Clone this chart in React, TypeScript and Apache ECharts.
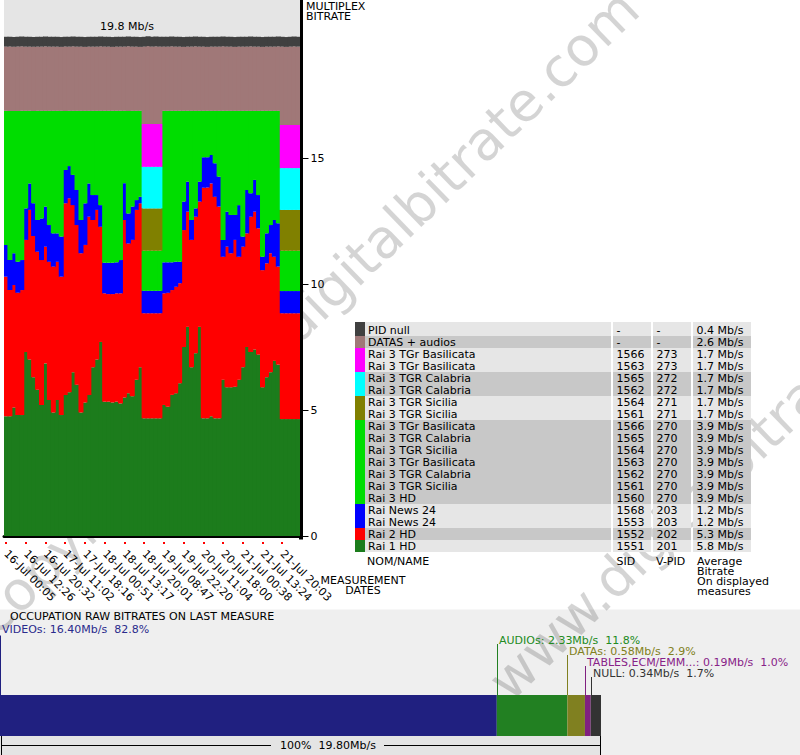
import React, { useEffect, useRef } from "react";
import * as echarts from "echarts";

const FONT = "DejaVu Sans";

// x-axis tick labels (one every 5 measurement columns)
const dateLabels = [
  "16-Jul 00:05", "16-Jul 12:26", "16-Jul 20:32", "17-Jul 11:02", "17-Jul 18:16",
  "18-Jul 00:51", "18-Jul 13:17", "18-Jul 20:01", "19-Jul 08:47", "19-Jul 22:20",
  "20-Jul 11:04", "20-Jul 18:00", "21-Jul 00:38", "21-Jul 13:24", "21-Jul 20:03",
];

// stacked bitrates (Mb/s), bottom to top
const rai1HD = [
  4.75, 4.75, 5.10, 4.80, 4.80, 7.30, 7.00, 6.30, 5.80, 5.20, 6.85, 5.40, 4.90, 5.40, 4.80,
  5.60, 5.70, 6.50, 6.00, 4.90, 5.30, 5.60, 6.70, 7.00, 7.70, 5.33, 5.33, 5.30, 5.33, 5.26,
  5.50, 5.66, 5.55, 6.20, 6.70, 4.67, 4.67, 4.67, 4.67, 4.67, 5.20, 5.13, 5.60, 5.66, 6.06,
  7.50, 8.30, 6.70, 7.25, 8.30, 4.67, 4.67, 4.75, 4.67, 4.67, 6.20, 5.90, 5.90, 5.92, 6.20,
  6.70, 7.50, 7.30, 7.40, 7.20, 5.90, 6.30, 6.50, 6.95, 6.80, 4.64, 4.64, 4.64, 4.64, 4.64,
];
const rai2HD = [
  5.54, 5.01, 4.86, 4.85, 4.96, 4.45, 5.94, 5.60, 5.48, 5.75, 4.63, 5.48, 5.79, 5.48, 5.49,
  7.60, 7.70, 6.63, 6.34, 6.32, 6.25, 7.07, 5.84, 5.94, 4.57, 4.30, 4.27, 4.30, 4.30, 4.37,
  7.04, 5.95, 6.20, 6.74, 6.50, 4.17, 4.17, 4.17, 4.17, 4.17, 4.43, 4.52, 4.16, 4.23, 3.97,
  4.64, 4.57, 5.05, 5.42, 4.97, 9.15, 9.16, 9.24, 8.79, 8.40, 4.88, 5.58, 5.32, 5.83, 4.88,
  4.78, 4.51, 5.37, 5.47, 5.01, 4.65, 4.52, 4.72, 4.13, 3.89, 4.20, 4.20, 4.20, 4.20, 4.20,
];
const news24 = [
  1.26, 1.19, 1.26, 1.23, 1.19, 1.25, 1.05, 1.30, 1.26, 1.65, 1.59, 1.46, 1.32, 1.13, 1.59,
  1.32, 1.28, 1.20, 1.39, 1.32, 1.65, 1.32, 0.99, 0.59, 0.86, 1.21, 1.24, 1.24, 1.23, 1.32,
  1.46, 1.19, 1.32, 0.39, 0.26, 0.89, 0.89, 0.89, 0.89, 0.89, 1.23, 1.21, 1.10, 0.99, 0.85,
  1.13, 1.19, 0.79, 0.33, 0.79, 1.21, 1.20, 1.13, 1.33, 1.19, 0.67, 1.39, 1.52, 0.99, 2.05,
  0.40, 1.72, 0.93, 1.26, 1.32, 0.53, 1.19, 1.12, 1.46, 1.72, 0.88, 0.88, 0.88, 0.88, 0.88,
];
const rai3HD = [
  5.32, 5.92, 5.65, 5.99, 5.92, 3.87, 2.88, 3.67, 4.33, 4.27, 3.80, 4.53, 4.86, 4.86, 4.99,
  2.35, 2.19, 2.54, 3.14, 4.33, 3.67, 2.88, 3.34, 3.34, 3.74, 6.03, 6.03, 6.03, 6.01, 5.92,
  2.87, 4.07, 3.80, 3.54, 3.41, 1.59, 1.59, 1.59, 1.59, 1.59, 6.01, 6.01, 6.01, 5.99, 5.99,
  3.60, 2.81, 4.33, 3.87, 2.81, 1.84, 1.84, 1.75, 2.08, 2.61, 5.12, 4.00, 4.13, 4.13, 3.74,
  4.99, 3.14, 3.27, 2.74, 3.34, 5.79, 4.86, 4.53, 4.33, 4.46, 1.60, 1.60, 1.60, 1.60, 1.60,
];
const tgrSicilia = [
  0, 0, 0, 0, 0, 0, 0, 0, 0, 0, 0, 0, 0, 0, 0,
  0, 0, 0, 0, 0, 0, 0, 0, 0, 0, 0, 0, 0, 0, 0,
  0, 0, 0, 0, 0, 1.68, 1.68, 1.68, 1.68, 1.68, 0, 0, 0, 0, 0,
  0, 0, 0, 0, 0, 0, 0, 0, 0, 0, 0, 0, 0, 0, 0,
  0, 0, 0, 0, 0, 0, 0, 0, 0, 0, 1.62, 1.62, 1.62, 1.62, 1.62,
];
const tgrCalabria = [
  0, 0, 0, 0, 0, 0, 0, 0, 0, 0, 0, 0, 0, 0, 0,
  0, 0, 0, 0, 0, 0, 0, 0, 0, 0, 0, 0, 0, 0, 0,
  0, 0, 0, 0, 0, 1.65, 1.65, 1.65, 1.65, 1.65, 0, 0, 0, 0, 0,
  0, 0, 0, 0, 0, 0, 0, 0, 0, 0, 0, 0, 0, 0, 0,
  0, 0, 0, 0, 0, 0, 0, 0, 0, 0, 1.66, 1.66, 1.66, 1.66, 1.66,
];
const tgrBasilicata = [
  0, 0, 0, 0, 0, 0, 0, 0, 0, 0, 0, 0, 0, 0, 0,
  0, 0, 0, 0, 0, 0, 0, 0, 0, 0, 0, 0, 0, 0, 0,
  0, 0, 0, 0, 0, 1.70, 1.70, 1.70, 1.70, 1.70, 0, 0, 0, 0, 0,
  0, 0, 0, 0, 0, 0, 0, 0, 0, 0, 0, 0, 0, 0, 0,
  0, 0, 0, 0, 0, 0, 0, 0, 0, 0, 1.71, 1.71, 1.71, 1.71, 1.71,
];
const datasAudios = [
  2.55, 2.55, 2.54, 2.55, 2.56, 2.55, 2.55, 2.54, 2.55, 2.55, 2.56, 2.55, 2.55, 2.55, 2.54,
  2.55, 2.55, 2.56, 2.55, 2.55, 2.54, 2.55, 2.55, 2.55, 2.56, 2.55, 2.55, 2.54, 2.55, 2.55,
  2.55, 2.56, 2.55, 2.55, 2.54, 3.07, 3.09, 3.07, 3.08, 3.07, 2.55, 2.55, 2.56, 2.55, 2.55,
  2.54, 2.55, 2.55, 2.56, 2.55, 2.55, 2.54, 2.55, 2.55, 2.55, 2.56, 2.55, 2.55, 2.54, 2.55,
  2.55, 2.55, 2.56, 2.55, 2.55, 2.54, 2.55, 2.55, 2.55, 2.56, 3.11, 3.10, 3.11, 3.12, 3.11,
];
const pidNull = [
  0.39, 0.39, 0.39, 0.39, 0.39, 0.39, 0.39, 0.39, 0.39, 0.39, 0.39, 0.39, 0.39, 0.39, 0.39,
  0.39, 0.39, 0.39, 0.39, 0.39, 0.39, 0.39, 0.39, 0.39, 0.39, 0.39, 0.39, 0.39, 0.39, 0.39,
  0.39, 0.39, 0.39, 0.39, 0.39, 0.39, 0.39, 0.39, 0.39, 0.39, 0.39, 0.39, 0.39, 0.39, 0.39,
  0.39, 0.39, 0.39, 0.39, 0.39, 0.39, 0.39, 0.39, 0.39, 0.39, 0.39, 0.39, 0.39, 0.39, 0.39,
  0.39, 0.39, 0.39, 0.39, 0.39, 0.39, 0.39, 0.39, 0.39, 0.39, 0.39, 0.39, 0.39, 0.39, 0.39,
];

const streamNames = ["Rai 1 HD", "Rai 2 HD", "Rai News 24", "Rai 3 HD", "Rai 3 TGR Sicilia", "Rai 3 TGR Calabria", "Rai 3 TGr Basilicata", "DATAS + audios", "PID null"];
const streamColors = ["#1c7c1c", "#ff0000", "#0000ff", "#00dd00", "#808000", "#00ffff", "#ff00ff", "#a07878", "#404040"];
const streamData = [rai1HD, rai2HD, news24, rai3HD, tgrSicilia, tgrCalabria, tgrBasilicata, datasAudios, pidNull];

const yTicks = [0, 5, 10, 15];
const peakLabel = "19.8 Mb/s";

// table (top to bottom)
const tableNames = [
  "PID null", "DATAS + audios", "Rai 3 TGr Basilicata", "Rai 3 TGr Basilicata", "Rai 3 TGR Calabria",
  "Rai 3 TGR Calabria", "Rai 3 TGR Sicilia", "Rai 3 TGR Sicilia", "Rai 3 TGr Basilicata", "Rai 3 TGR Calabria",
  "Rai 3 TGR Sicilia", "Rai 3 TGr Basilicata", "Rai 3 TGR Calabria", "Rai 3 TGR Sicilia", "Rai 3 HD",
  "Rai News 24", "Rai News 24", "Rai 2 HD", "Rai 1 HD",
];
const tableSid = ["-", "-", "1566", "1563", "1565", "1562", "1564", "1561", "1566", "1565", "1564", "1563", "1562", "1561", "1560", "1568", "1553", "1552", "1551"];
const tableVpid = ["-", "-", "273", "273", "272", "272", "271", "271", "270", "270", "270", "270", "270", "270", "270", "203", "203", "202", "201"];
const tableAvg = [0.4, 2.6, 1.7, 1.7, 1.7, 1.7, 1.7, 1.7, 3.9, 3.9, 3.9, 3.9, 3.9, 3.9, 3.9, 1.2, 1.2, 5.3, 5.8];
const tableStream = [8, 7, 6, 6, 5, 5, 4, 4, 3, 3, 3, 3, 3, 3, 3, 2, 2, 1, 0];

// occupation on last measure
const occNames = ["VIDEOs", "AUDIOs", "DATAs", "TABLES,ECM/EMM...", "NULL"];
const occValues = [16.40, 2.33, 0.58, 0.19, 0.34];
const occPercents = [82.8, 11.8, 2.9, 1.0, 1.7];
const occColors = ["#202080", "#228022", "#808020", "#802080", "#333333"];
const occTextColors = ["#2a2a8c", "#228b22", "#808020", "#882288", "#333333"];
const occTotalLabel = "100%  19.80Mb/s";

export default function App() {
  const ref = useRef<HTMLDivElement>(null);

  useEffect(() => {
    const chart = echarts.init(ref.current!, null, { renderer: "svg" });
    const n = rai1HD.length;
    const cats = Array.from({ length: n }, (_, i) => `m${i}`);
    const txt = (text: string, x: number, y: number, extra: any = {}, z = 5) => ({
      type: "text", x, y, z, silent: true,
      style: { text, fill: "#000", fontSize: 11, fontFamily: FONT, align: "left", verticalAlign: "middle", ...extra },
    });

    const graphics: any[] = [];
    // bottom section background
    graphics.push({ type: "rect", z: -20, silent: true, shape: { x: 0, y: 609.5, width: 800, height: 146 }, style: { fill: "#efefef" } });
    // watermark
    const rot = (44 * Math.PI) / 180;
    const wmStyle = { fill: "rgba(0,0,0,0.17)", fontSize: 54, fontFamily: FONT, align: "left", verticalAlign: "middle" };
    graphics.push({ type: "text", z: -10, silent: true, x: -16, y: 624, rotation: rot, style: { text: "copyright www.digitalbitrate.com", ...wmStyle } });
    graphics.push({ type: "text", z: -10, silent: true, x: 498, y: 690, rotation: rot, style: { text: "www.digitalbitrate.com", ...wmStyle } });

    graphics.push(txt(peakLabel, 127, 26, { align: "center" }));
    graphics.push(txt("MULTIPLEX\nBITRATE", 306, 1, { verticalAlign: "top", lineHeight: 10 }));
    graphics.push(txt("MEASUREMENT\nDATES", 363, 576, { align: "center", verticalAlign: "top", lineHeight: 9.5 }));
    // axis corner
    graphics.push({ type: "rect", z: 10, silent: true, shape: { x: 299, y: 536, width: 4, height: 3.5 }, style: { fill: "#000" } });

    // table
    tableNames.forEach((name, i) => {
      const top = i === 0 ? 322 : 324 + 12 * i;
      const h = i === 0 ? 14 : 12;
      const s = tableStream[i];
      const shade = (8 - s) % 2 === 0 ? "#e6e6e6" : "#c8c8c8";
      graphics.push({ type: "rect", z: 3, silent: true, shape: { x: 355, y: top, width: 10, height: h }, style: { fill: streamColors[s] } });
      graphics.push({ type: "rect", z: 3, silent: true, shape: { x: 365, y: top, width: 246, height: h }, style: { fill: shade } });
      graphics.push({ type: "rect", z: 3, silent: true, shape: { x: 613, y: top, width: 38, height: h }, style: { fill: shade } });
      graphics.push({ type: "rect", z: 3, silent: true, shape: { x: 653, y: top, width: 38, height: h }, style: { fill: shade } });
      graphics.push({ type: "rect", z: 3, silent: true, shape: { x: 693, y: top, width: 58, height: h }, style: { fill: shade } });
      const cy = 330 + 12 * i;
      graphics.push(txt(name, 368, cy));
      graphics.push(txt(tableSid[i], 616.5, cy));
      graphics.push(txt(tableVpid[i], 656.5, cy));
      graphics.push(txt(`${tableAvg[i].toFixed(1)} Mb/s`, 696.5, cy));
    });
    graphics.push(txt("NOM/NAME", 367, 561));
    graphics.push(txt("SID", 616.5, 561));
    graphics.push(txt("V-PID", 656, 561));
    graphics.push(txt("Average\nBitrate\nOn displayed\nmeasures", 697, 556, { verticalAlign: "top", lineHeight: 10 }));

    // occupation section
    graphics.push(txt("OCCUPATION RAW BITRATES ON LAST MEASURE", 10, 616));
    const occTotal = occValues.reduce((a, b) => a + b, 0);
    const barLeft = 0;
    const barWidth = 601;
    const barTop = 695;
    let cum = 0;
    occValues.forEach((v, i) => {
      const px = barLeft + (cum / occTotal) * barWidth;
      const lx = Math.round(px) + 0.5;
      const ty = i === 0 ? 629.5 : 640 + 11 * (i - 1);
      const tx = i === 0 ? 2 : lx + 1.5;
      graphics.push(txt(`${occNames[i]}: ${v.toFixed(2)}Mb/s  ${occPercents[i].toFixed(1)}%`, tx, ty, { fill: occTextColors[i] }));
      graphics.push({ type: "line", z: 4, silent: true, shape: { x1: i === 0 ? 0.5 : lx, y1: ty + (i === 0 ? 6 : 4), x2: i === 0 ? 0.5 : lx, y2: barTop }, style: { stroke: occColors[i], lineWidth: 1 } });
      cum += v;
    });
    graphics.push({ type: "rect", z: 3, silent: true, shape: { x: 0, y: 736, width: 600, height: 19 }, style: { fill: "#e4e4e4" } });
    graphics.push({ type: "line", z: 4, silent: true, shape: { x1: 1.5, y1: 736, x2: 1.5, y2: 755 }, style: { stroke: "#000", lineWidth: 1 } });
    graphics.push({ type: "line", z: 4, silent: true, shape: { x1: 600.5, y1: 736, x2: 600.5, y2: 755 }, style: { stroke: "#000", lineWidth: 1 } });
    graphics.push({ type: "line", z: 4, silent: true, shape: { x1: 2, y1: 745.5, x2: 271, y2: 745.5 }, style: { stroke: "#000", lineWidth: 1 } });
    graphics.push({ type: "line", z: 4, silent: true, shape: { x1: 384, y1: 745.5, x2: 600, y2: 745.5 }, style: { stroke: "#000", lineWidth: 1 } });
    graphics.push(txt(occTotalLabel, 328, 745, { align: "center" }));

    const mainSeries = streamData.map((data, k) => ({
      type: "bar",
      name: streamNames[k],
      stack: "mux",
      xAxisIndex: 0,
      yAxisIndex: 0,
      data: data.map((v) => (v === 0 ? null : v)),
      // columns slightly wider than their 4px band so neighbours overlap and no seam shows
      barWidth: 5,
      clip: true,
      silent: true,
      itemStyle: { color: streamColors[k] },
    }));
    const occSeries = occValues.map((v, i) => ({
      type: "bar",
      name: occNames[i],
      stack: "occ",
      xAxisIndex: 1,
      yAxisIndex: 1,
      data: [v],
      barWidth: "100%",
      silent: true,
      itemStyle: { color: occColors[i] },
    }));

    const option: any = {
      animation: false,
      grid: [
        { left: 0, top: 0, width: 300, height: 536, show: true, backgroundColor: "#e5e5e5", borderWidth: 0 },
        { left: barLeft, top: barTop, width: barWidth, height: 41, show: false },
      ],
      xAxis: [
        {
          type: "category", gridIndex: 0, data: cats, boundaryGap: true, offset: 2,
          axisLine: { show: true, lineStyle: { color: "#000", width: 3 } },
          axisTick: { show: true, alignWithLabel: true, interval: 4, length: 8, lineStyle: { color: "#ff0000", width: 2, type: [0, 6, 2, 20] } },
          axisLabel: {
            interval: 4, rotate: -45, margin: 14, fontSize: 11, fontFamily: FONT, color: "#000",
            formatter: (_v: string, i: number) => (i % 5 === 0 ? dateLabels[i / 5] : ""),
          },
          splitLine: { show: false },
        },
        { type: "value", gridIndex: 1, min: 0, max: occTotal, show: false },
      ],
      yAxis: [
        {
          type: "value", gridIndex: 0, position: "right", min: 0, max: 536 / 25.2, offset: 1.5, interval: 5,
          axisLine: { show: true, lineStyle: { color: "#000", width: 3 } },
          axisTick: { show: true, length: 7, customValues: yTicks, lineStyle: { color: "#000", width: 1 } },
          axisLabel: { customValues: yTicks, margin: 9, fontSize: 11, fontFamily: FONT, color: "#000", padding: [0, 0, 6, 0] },
          splitLine: { show: false },
        },
        { type: "category", gridIndex: 1, data: ["occ"], show: false },
      ],
      series: [...mainSeries, ...occSeries],
      graphic: { elements: graphics },
    };
    chart.setOption(option);
    return () => chart.dispose();
  }, []);

  return <div ref={ref} style={{ position: "absolute", left: 0, top: 0, width: 800, height: 755 }} />;
}
